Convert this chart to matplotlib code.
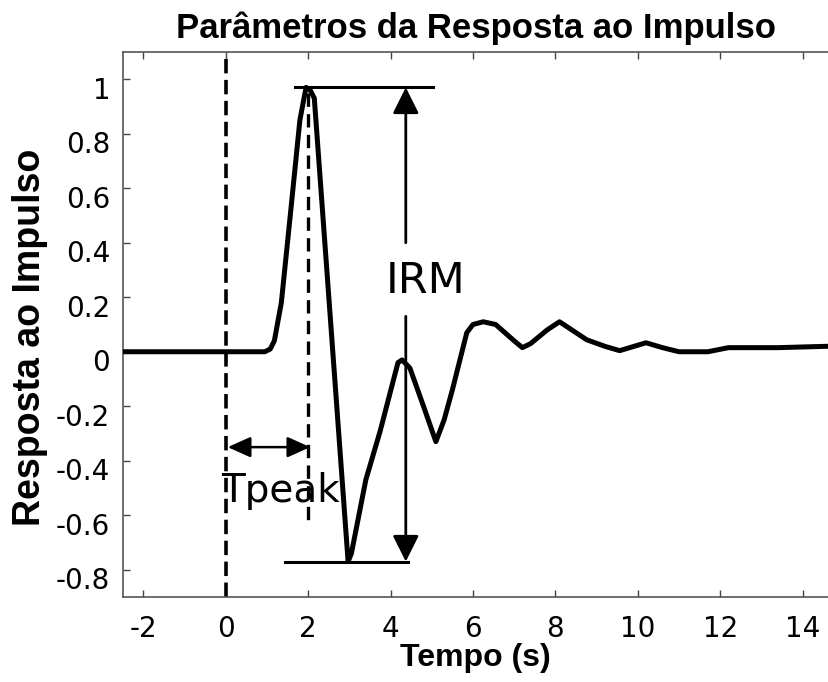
import matplotlib
matplotlib.use("Agg")
import matplotlib.pyplot as plt
from matplotlib.transforms import ScaledTranslation

plt.rcParams["axes.unicode_minus"] = False

# impulse response
tempo = [-2.5, 0.0, 0.95, 1.08, 1.18, 1.35, 1.6, 1.8, 1.95, 2.05, 2.15, 2.97, 3.05,
         3.4, 3.75, 4.18, 4.28, 4.47, 4.8, 5.1, 5.3, 5.5, 5.85, 6.0, 6.25,
         6.55, 7.0, 7.2, 7.4, 7.8, 8.1, 8.4, 8.76, 9.2, 9.56, 10.2, 10.6,
         11.0, 11.7, 12.2, 13.4, 14.6]
resposta = [0.0, 0.0, 0.0, 0.01, 0.04, 0.18, 0.55, 0.85, 0.97, 0.96, 0.93, -0.77, -0.74,
            -0.47, -0.29, -0.04, -0.03, -0.06, -0.2, -0.33, -0.25, -0.14, 0.07, 0.1, 0.11,
            0.1, 0.04, 0.015, 0.03, 0.08, 0.11, 0.08, 0.044, 0.02, 0.004, 0.033, 0.015,
            0.0, 0.0, 0.015, 0.015, 0.02]

x_ticks = [-2, 0, 2, 4, 6, 8, 10, 12, 14]
y_ticks = [-0.8, -0.6, -0.4, -0.2, 0, 0.2, 0.4, 0.6, 0.8, 1]
y_labels = ["-0.8", "-0.6", "-0.4", "-0.2", "0", "0.2", "0.4", "0.6", "0.8", "1"]

pico = 0.97      # IRM top
vale = -0.77     # IRM bottom
t_pico = 2.0

fig = plt.figure(figsize=(8.29, 6.82), dpi=100)
ax = fig.add_axes([0.148, 0.1246, 0.852, 0.7992])

ax.plot(tempo, resposta, color="black", lw=3.6, solid_joinstyle="round", zorder=3)

# markers of onset and peak
ax.axvline(0, color="black", lw=2.6, ls=(0, (4, 1.8)), zorder=2)
ax.plot([t_pico, t_pico], [0.95, -0.62], color="black", lw=2.4, ls=(0, (4, 2.2)), zorder=2)

# IRM
ax.plot([1.67, 5.02], [pico, pico], color="black", lw=2.2)
ax.plot([1.43, 4.42], [vale, vale], color="black", lw=2.2)
head = dict(arrowstyle="-|>,head_length=1.0,head_width=0.5", color="black", lw=2,
            mutation_scale=16, shrinkA=0, shrinkB=0)
ax.annotate("", xy=(4.37, pico), xytext=(4.37, 0.40), arrowprops=head)
ax.annotate("", xy=(4.37, vale), xytext=(4.37, 0.13), arrowprops=head)
ax.text(3.88, 0.26, "IRM", fontsize=31, ha="left", va="center", family="DejaVu Sans")

# Tpeak
ax.annotate("", xy=(0.05, -0.35), xytext=(2.05, -0.35),
            arrowprops=dict(arrowstyle="<|-|>,head_length=1.0,head_width=0.45", color="black",
                            lw=1.8, mutation_scale=14, shrinkA=0, shrinkB=0))
ax.text(-0.1, -0.51, "Tpeak", fontsize=28, ha="left", va="center", family="DejaVu Sans")

ax.set_xlim(-2.5, 14.64)
ax.set_ylim(-0.9, 1.1)
ax.set_xticks(x_ticks)
ax.set_yticks(y_ticks)
ax.set_yticklabels(y_labels)
ax.tick_params(direction="in", length=5, width=1, top=True, right=False, color="#444444")
ax.tick_params(axis="x", pad=13, labelsize=20)
ax.tick_params(axis="y", pad=9, labelsize=20)
shift = ScaledTranslation(0, -6 / 72, fig.dpi_scale_trans)
for lab in ax.get_yticklabels():
    lab.set_transform(lab.get_transform() + shift)
for s in ["left", "bottom", "top"]:
    ax.spines[s].set_color("#555555")
    ax.spines[s].set_linewidth(1.2)
ax.spines["right"].set_visible(False)

ax.set_title("Parâmetros da Resposta ao Impulso", fontsize=25, fontweight="bold",
             family="Liberation Sans", pad=10)
ax.set_xlabel("Tempo (s)", fontsize=23, fontweight="bold", family="Liberation Sans", labelpad=0)
ax.set_ylabel("Resposta ao Impulso", fontsize=27, fontweight="bold", family="Liberation Sans")
ax.yaxis.set_label_coords(-0.106, 0.477)

fig.savefig("out.png", dpi=100)
